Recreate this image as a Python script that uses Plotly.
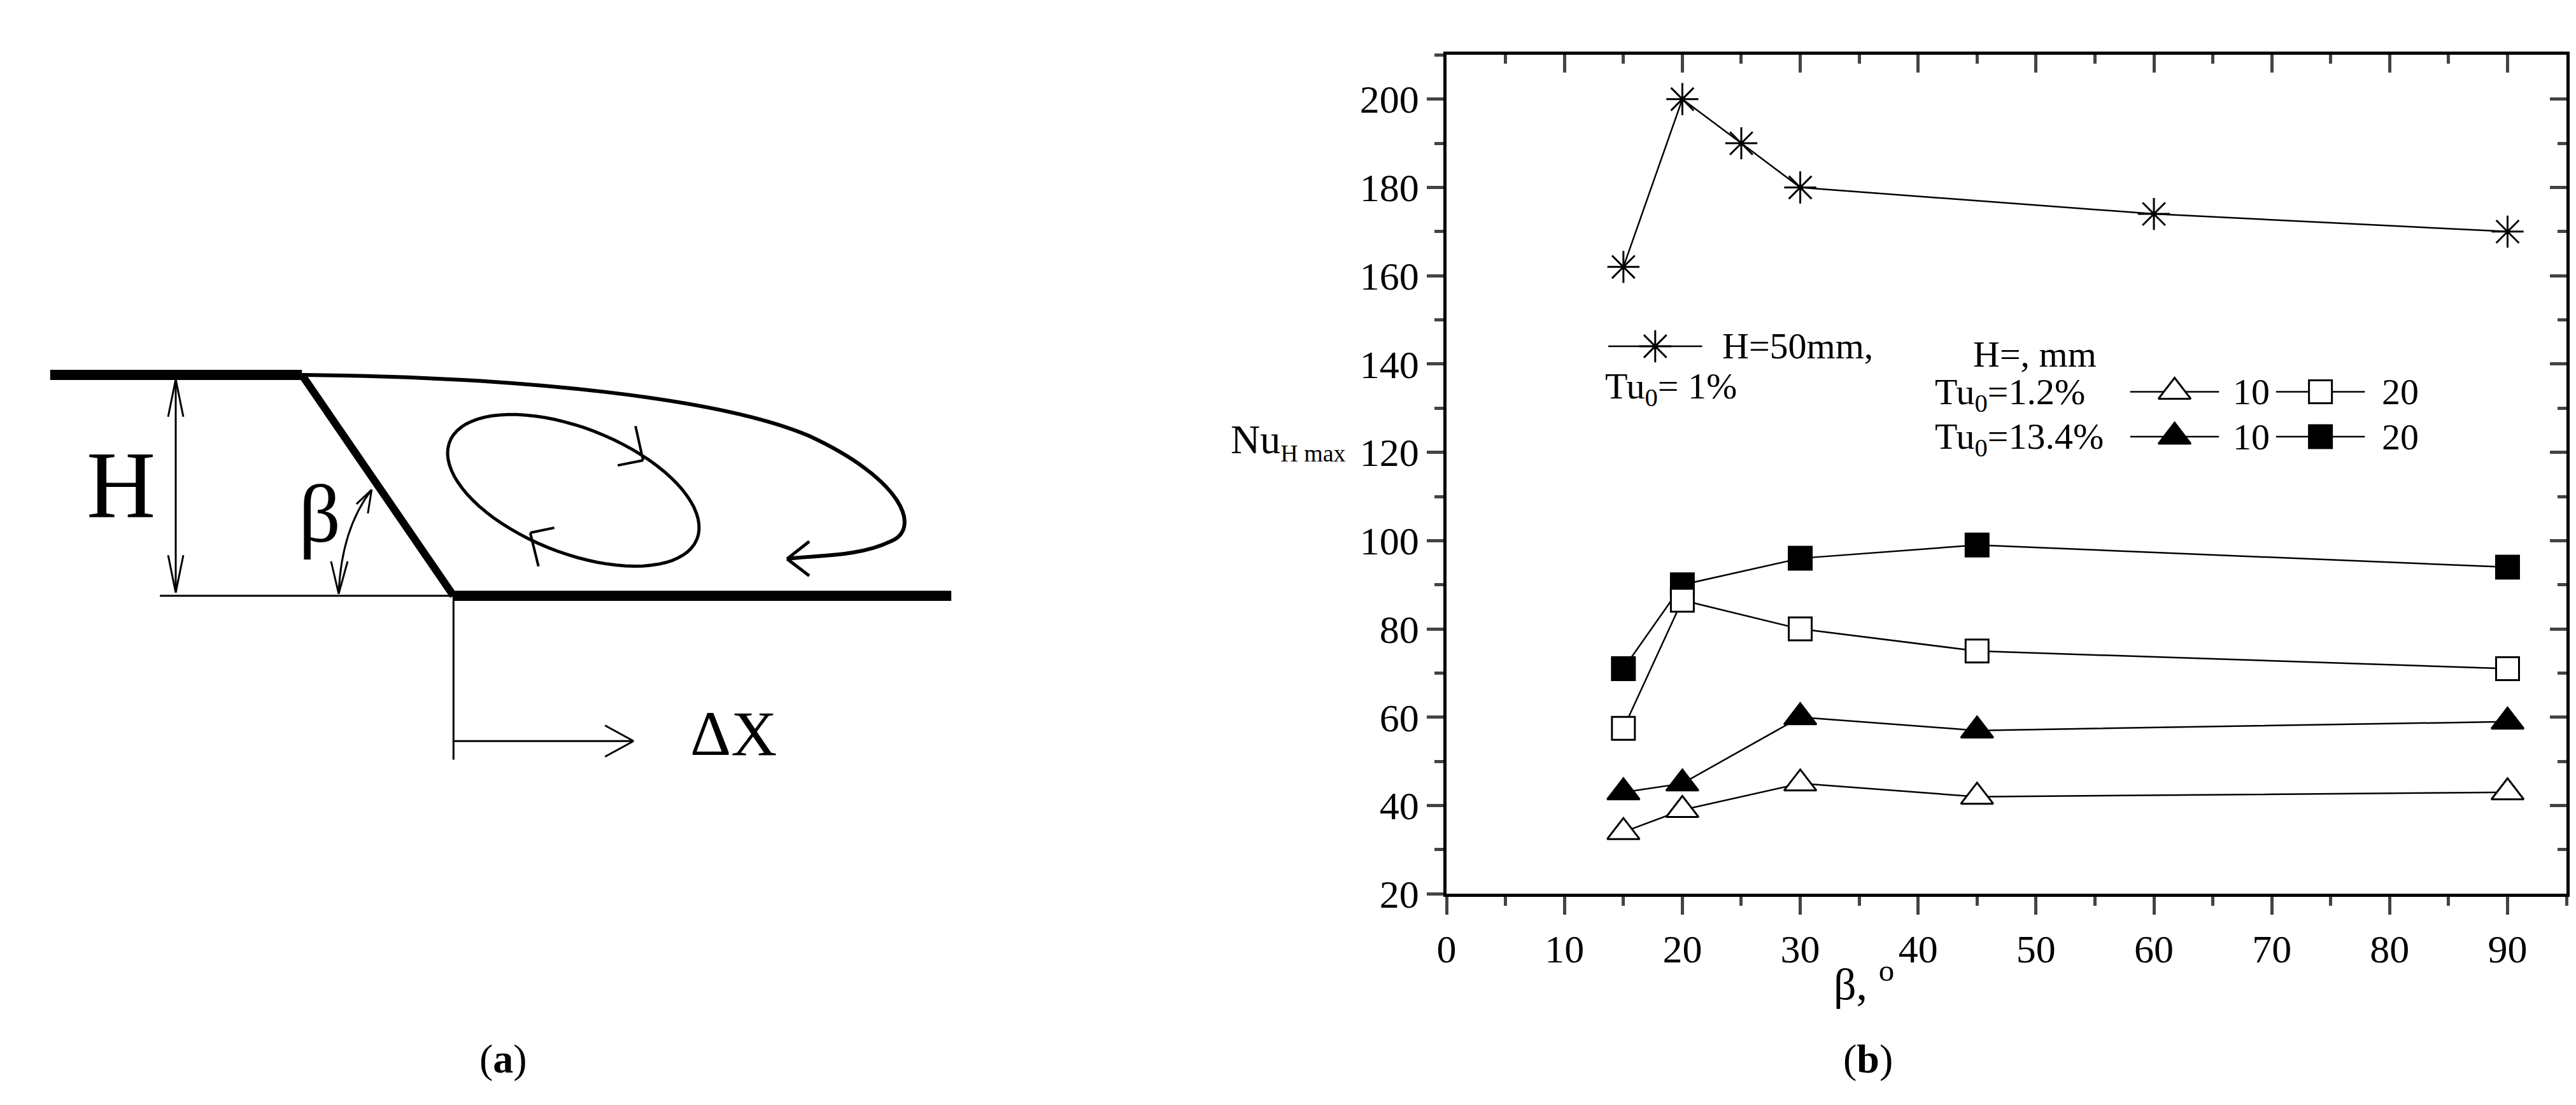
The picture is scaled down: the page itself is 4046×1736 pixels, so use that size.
import plotly.graph_objects as go
import numpy as np

beta_star = [15, 20, 25, 30, 60, 90]
nu_star = [162, 200, 190, 180, 174, 170]
beta_5 = [15, 20, 30, 45, 90]
nu_open_sq = [57.5, 86.5, 80, 75, 71]
nu_fill_sq = [71, 90, 96, 99, 94]
nu_fill_tri = [43, 45, 60, 57, 59]
nu_open_tri = [34, 39, 45, 42, 43]
x_ticks = [0, 10, 20, 30, 40, 50, 60, 70, 80, 90]
y_ticks = [20, 40, 60, 80, 100, 120, 140, 160, 180, 200]

W, H = 4046, 1736
FONT = "Liberation Serif"
fig = go.Figure()
TRI, SQ, AST = 44, 36, 42

def mk(sym, size, fill):
    return dict(symbol=sym, size=size, color=fill, line=dict(color="black", width=3))

def series(x, y, sym, size, fill):
    fig.add_trace(go.Scatter(x=x, y=y, mode="lines+markers", showlegend=False,
                             line=dict(color="black", width=2.5), marker=mk(sym, size, fill)))

series(beta_star, nu_star, "asterisk-open", AST, "black")
series(beta_5, nu_fill_sq, "square", SQ, "black")
series(beta_5, nu_open_sq, "square", SQ, "white")
series(beta_5, nu_fill_tri, "triangle-up", TRI, "black")
series(beta_5, nu_open_tri, "triangle-up", TRI, "white")

def leg(x0, x1, y, sym, size, fill):
    fig.add_trace(go.Scatter(x=[x0, x1], y=[y, y], mode="lines", xaxis="x2", yaxis="y2",
                             showlegend=False, line=dict(color="black", width=2.5)))
    fig.add_trace(go.Scatter(x=[(x0 + x1) / 2], y=[y], mode="markers", xaxis="x2", yaxis="y2",
                             showlegend=False, marker=mk(sym, size, fill)))

leg(2512, 2660, 547, "asterisk-open", AST, "black")
leg(3335, 3475, 620, "triangle-up", TRI, "white")
leg(3565, 3705, 620, "square", SQ, "white")
leg(3335, 3475, 692, "triangle-up", TRI, "black")
leg(3565, 3705, 692, "square", SQ, "black")

def txt(x, y, s, size=58, xa="left"):
    fig.add_annotation(x=x, y=y, xref="x2", yref="y2", text=s, showarrow=False,
                       xanchor=xa, yanchor="middle", font=dict(family=FONT, size=size, color="black"))

txt(2690, 547, "H=50mm,")
txt(2505, 615, "Tu<sub>0</sub>= 1%")
txt(3085, 560, "H=, mm")
txt(3025, 624, "Tu<sub>0</sub>=1.2%")
txt(3025, 696, "Tu<sub>0</sub>=13.4%")
txt(3495, 620, "10")
txt(3730, 620, "20")
txt(3495, 692, "10")
txt(3730, 692, "20")
txt(1915, 700, "Nu<sub><span style='font-size:38px'>H max</span></sub>", 64)
txt(2915, 1565, "β, <sup>o</sup>", 70, "center")
txt(770, 1690, "(<b>a</b>)", 64, "center")
txt(2922, 1690, "(<b>b</b>)", 64, "center")
txt(110, 768, "H", 150)
txt(445, 815, "β", 130)
txt(1062, 1168, "ΔX", 100)

shapes = []
def line(x0, y0, x1, y1, w=3):
    shapes.append(dict(type="line", xref="x2", yref="y2", x0=x0, y0=y0, x1=x1, y1=y1,
                       line=dict(color="black", width=w)))

line(55, 593, 452, 593, 16)
line(452, 593, 691, 947, 12)
line(691, 947, 1476, 947, 16)
line(228, 947, 691, 947, 3)
line(253, 600, 253, 942, 3)
line(253, 600, 241, 660, 3); line(253, 600, 265, 660, 3)
line(253, 942, 241, 882, 3); line(253, 942, 265, 882, 3)
line(691, 947, 691, 1210, 3)
line(691, 1180, 975, 1180, 3)
line(975, 1180, 930, 1155, 3); line(975, 1180, 930, 1205, 3)
shapes.append(dict(type="path", xref="x2", yref="y2", path="M 510,944 Q 514,840 562,777",
                   line=dict(color="black", width=3)))
line(510, 944, 498, 892, 3); line(510, 944, 524, 892, 3)
line(562, 777, 538, 800, 3); line(562, 777, 556, 815, 3)
shapes.append(dict(type="path", xref="x2", yref="y2",
                   path="M 452,593 C 800,596 1110,630 1250,690 C 1400,760 1430,840 1380,860 C 1330,885 1260,882 1217,888",
                   line=dict(color="black", width=6)))
line(1217, 888, 1252, 860, 5); line(1217, 888, 1252, 915, 5)
t = np.linspace(0, 2 * np.pi, 80)
cx, cy, a, b, ang = 880, 778, 210, 100, np.deg2rad(22)
ex = cx + a * np.cos(t) * np.cos(ang) - b * np.sin(t) * np.sin(ang)
ey = cy + a * np.cos(t) * np.sin(ang) + b * np.sin(t) * np.cos(ang)
shapes.append(dict(type="path", xref="x2", yref="y2",
                   path="M " + " L ".join(f"{x:.1f},{y:.1f}" for x, y in zip(ex, ey)) + " Z",
                   line=dict(color="black", width=5)))
line(990, 730, 978, 675, 4); line(990, 730, 950, 738, 4)
line(812, 846, 825, 900, 4); line(812, 846, 850, 838, 4)

ax_common = dict(showline=True, linewidth=5, linecolor="black", showgrid=False, zeroline=False, tickwidth=5)
fig.update_layout(
    width=W, height=H, margin=dict(l=0, r=0, t=0, b=0),
    paper_bgcolor="white", plot_bgcolor="rgba(0,0,0,0)", shapes=shapes,
    font=dict(family=FONT, size=58, color="black"),
    xaxis=dict(domain=[2257 / W, 4023 / W], range=[0, 95], tickvals=x_ticks, ticks="outside",
               ticklen=28, minor=dict(dtick=5, ticklen=14, tickwidth=5, ticks="outside"),
               tickfont=dict(size=62), anchor="y", **ax_common),
    yaxis=dict(domain=[1 - 1425 / H, 1 - 80 / H], range=[20, 210], tickvals=y_ticks, ticks="outside",
               ticklen=26, minor=dict(dtick=10, ticklen=14, tickwidth=5, ticks="outside"),
               tickfont=dict(size=62), anchor="x", **ax_common),
    xaxis3=dict(overlaying="x", side="top", anchor="y", range=[0, 95], tickvals=x_ticks, ticks="inside",
                ticklen=28, showticklabels=False,
                minor=dict(dtick=5, ticklen=14, tickwidth=5, ticks="inside"), **ax_common),
    yaxis3=dict(overlaying="y", side="right", anchor="x", range=[20, 210], tickvals=y_ticks, ticks="inside",
                ticklen=26, showticklabels=False,
                minor=dict(dtick=10, ticklen=14, tickwidth=5, ticks="inside"), **ax_common),
    xaxis2=dict(domain=[0, 1], range=[0, W], visible=False, anchor="y2"),
    yaxis2=dict(domain=[0, 1], range=[H, 0], visible=False, anchor="x2"),
)
fig.add_trace(go.Scatter(x=[None], y=[None], xaxis="x3", yaxis="y", showlegend=False))
fig.add_trace(go.Scatter(x=[None], y=[None], xaxis="x", yaxis="y3", showlegend=False))
fig.write_html("out.html")
